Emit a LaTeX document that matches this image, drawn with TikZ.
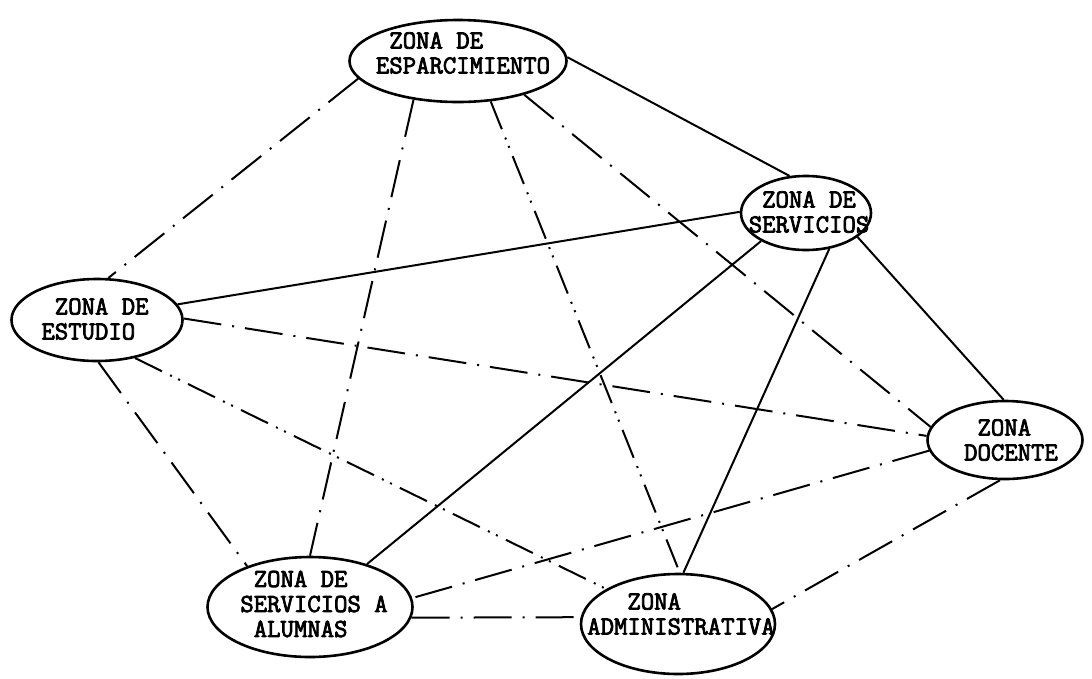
\documentclass[tikz,border=0pt]{standalone}
\usepackage{fontspec}
\newfontfamily\typew{Latin Modern Mono}[FakeBold=3]
\usetikzlibrary{shapes.geometric}
\begin{document}
\begin{tikzpicture}[x=1pt,y=-1pt,
  zone/.style={ellipse,draw,line width=2.6pt,inner sep=0pt},
  ztext/.style={font=\typew\fontsize{26}{25}\selectfont,align=left,inner sep=0pt},
  link/.style={line width=2pt},
  dd/.style={link,dash pattern=on 38pt off 11pt on 2pt off 11pt},
  ddd/.style={link,dash pattern=on 30pt off 9pt on 2pt off 7pt on 2pt off 9pt}]
\useasboundingbox (0,0) rectangle (1092,678);
\fill[white] (0,0) rectangle (1092,678);
% zones
\node[zone,minimum width=217pt,minimum height=82pt] (esp) at (458,61) {};
\node[ztext] (espt) at (463,53) {\phantom{E}ZONA DE\\ESPARCIMIENTO};
\node[zone,minimum width=130pt,minimum height=74pt] (ser) at (806,213) {};
\node[ztext] (sert) at (809,212) {\phantom{S}ZONA DE\\SERVICIOS};
\node[zone,minimum width=171pt,minimum height=82pt] (est) at (97,320) {};
\node[ztext] (estt) at (95,319) {\phantom{E}ZONA DE\\ESTUDIO};
\node[zone,minimum width=155pt,minimum height=78pt] (doc) at (1005,440) {};
\node[ztext] (doct) at (1011,440) {\phantom{D}ZONA\\DOCENTE};
\node[zone,minimum width=205pt,minimum height=100pt] (alu) at (310,607) {};
\node[ztext] (alut) at (314,604) {\phantom{S}ZONA DE\\SERVICIOS A\\\phantom{S}ALUMNAS};
\node[zone,minimum width=194pt,minimum height=100pt] (adm) at (678,624) {};
\node[ztext] (admt) at (681,614) {\phantom{ADM}ZONA\\ADMINISTRATIVA};
% connectors
\draw[link] (esp.2) -- (ser.114);
\draw[dd] (esp.190) -- (est.75);
\draw[dd] (esp.221) -- (alu.90);
\draw[ddd] (esp.309) -- (adm.88);
\draw[dd] (esp.333) -- (doc.170);
\draw[link] (ser.179) -- (est.11);
\draw[link] (ser.212) -- (alu.37);
\draw[link] (ser.303) -- (adm.84);
\draw[link] (ser.335) -- (doc.92);
\draw[dd] (est.1) -- (doc.177);
\draw[dd] (est.272) -- (alu.147);
\draw[ddd] (est.315) -- (adm.154);
\draw[dd] (doc.188) -- (alu.5);
\draw[dd] (doc.263) -- (adm.9);
\draw[dd] (alu.354) -- (adm.176);
\end{tikzpicture}
\end{document}
